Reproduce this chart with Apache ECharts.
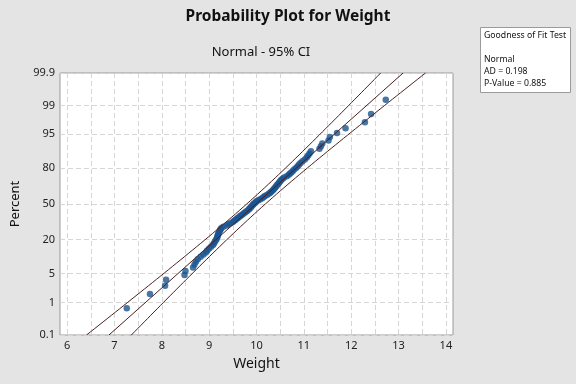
<!DOCTYPE html>
<html><head><meta charset="utf-8">
<script src="https://cdn.jsdelivr.net/npm/echarts@6/dist/echarts.min.js"></script>
<style>html,body{margin:0;padding:0;background:#e4e4e4}#c{width:576px;height:384px}</style>
</head><body><div id="c"></div>
<script>
// Sorted sample values, n = 100
const weights = [
  7.26, 7.75, 8.07, 8.09, 8.48, 8.50, 8.66, 8.69, 8.72, 8.76,
  8.82, 8.88, 8.93, 8.96, 9.00, 9.04, 9.08, 9.10, 9.12, 9.14,
  9.16, 9.17, 9.18, 9.19, 9.20, 9.21, 9.23, 9.24, 9.26, 9.30,
  9.37, 9.41, 9.45, 9.50, 9.53, 9.56, 9.59, 9.62, 9.65, 9.68,
  9.71, 9.74, 9.77, 9.80, 9.83, 9.85, 9.87, 9.89, 9.91, 9.93,
  9.95, 9.98, 10.00, 10.04, 10.08, 10.12, 10.15, 10.18, 10.22, 10.26,
  10.29, 10.31, 10.34, 10.36, 10.38, 10.40, 10.42, 10.44, 10.46, 10.48,
  10.50, 10.52, 10.55, 10.58, 10.64, 10.68, 10.71, 10.74, 10.77, 10.80,
  10.84, 10.87, 10.90, 10.93, 10.97, 11.02, 11.06, 11.09, 11.12, 11.15,
  11.33, 11.36, 11.39, 11.52, 11.55, 11.70, 11.88, 12.29, 12.42, 12.73
];
const percentTicks = [0.1, 1, 5, 20, 50, 80, 95, 99, 99.9];
const xTickLabels = [6, 7, 8, 9, 10, 11, 12, 13, 14];
const xGridValues = [6, 6.5, 7, 7.5, 8, 8.5, 9, 9.5, 10, 10.5, 11, 11.5, 12, 12.5, 13, 13.5, 14];
const fitMean = 9.99;
const fitStDev = 1.005;
const gofLines = ['Goodness of Fit Test', '', 'Normal', 'AD = 0.198', 'P-Value = 0.885'];

// inverse standard normal (Acklam)
function probit(p) {
  const a = [-3.969683028665376e+01, 2.209460984245205e+02, -2.759285104469687e+02, 1.383577518672690e+02, -3.066479806614716e+01, 2.506628277459239e+00];
  const b = [-5.447609879822406e+01, 1.615858368580409e+02, -1.556989798598866e+02, 6.680131188771972e+01, -1.328068155288572e+01];
  const c = [-7.784894002430293e-03, -3.223964580411365e-01, -2.400758277161838e+00, -2.549671400699464e+00, 4.374664141464968e+00, 2.938163982698783e+00];
  const d = [7.784695709041462e-03, 3.224671290700398e-01, 2.445134137142996e+00, 3.754408661907416e+00];
  const pl = 0.02425;
  let q, r;
  if (p < pl) { q = Math.sqrt(-2 * Math.log(p)); return (((((c[0]*q+c[1])*q+c[2])*q+c[3])*q+c[4])*q+c[5]) / ((((d[0]*q+d[1])*q+d[2])*q+d[3])*q+1); }
  if (p > 1 - pl) { q = Math.sqrt(-2 * Math.log(1 - p)); return -(((((c[0]*q+c[1])*q+c[2])*q+c[3])*q+c[4])*q+c[5]) / ((((d[0]*q+d[1])*q+d[2])*q+d[3])*q+1); }
  q = p - 0.5; r = q * q;
  return (((((a[0]*r+a[1])*r+a[2])*r+a[3])*r+a[4])*r+a[5])*q / (((((b[0]*r+b[1])*r+b[2])*r+b[3])*r+b[4])*r+1);
}

const n = weights.length;
const zTicks = percentTicks.map(p => probit(p / 100));
const zMin = zTicks[0], zMax = zTicks[zTicks.length - 1];
const points = weights.map((w, i) => [w, probit((i + 1 - 0.3) / (n + 0.4))]);

const fitLine = [[fitMean + fitStDev * zMin, zMin], [fitMean + fitStDev * zMax, zMax]];
const ciLower = [], ciUpper = [];
for (let k = 0; k <= 80; k++) {
  const z = zMin + (zMax - zMin) * k / 80;
  const xp = fitMean + fitStDev * z;
  const h = 1.96 * fitStDev * Math.sqrt((1 + z * z / 2) / n);
  ciUpper.push([xp - h, z]);
  ciLower.push([xp + h, z]);
}

function labelFor(v) {
  let best = 0, bd = Infinity;
  zTicks.forEach((z, i) => { const d = Math.abs(z - v); if (d < bd) { bd = d; best = i; } });
  return String(percentTicks[best]);
}

const FONT = 'Noto Sans';
const lineColor = '#4a2020';
const chart = echarts.init(document.getElementById('c'), null, { renderer: 'canvas' });
chart.setOption({
  backgroundColor: '#e4e4e4',
  animation: false,
  title: [
    { text: 'Probability Plot for Weight', left: 'center', top: 4,
      textStyle: { fontFamily: FONT, fontSize: 15.5, fontWeight: 'bold', color: '#111' } },
    { text: 'Normal - 95% CI', left: 256, textAlign: 'center', top: 41,
      textStyle: { fontFamily: FONT, fontSize: 13, fontWeight: 'normal', color: '#111' } }
  ],
  grid: { left: 60, right: 123, top: 73, bottom: 49, show: true, backgroundColor: '#fff', borderColor: '#9a9a9a', borderWidth: 1 },
  xAxis: {
    type: 'value', min: 5.85, max: 14.15,
    name: 'Weight', nameLocation: 'middle', nameGap: 22,
    nameTextStyle: { fontFamily: FONT, fontSize: 14, color: '#111' },
    axisLine: { show: false },
    axisTick: { show: false, customValues: xGridValues },
    axisLabel: { customValues: xTickLabels, fontFamily: FONT, fontSize: 11, color: '#222', margin: 5 },
    splitLine: { show: true, lineStyle: { color: '#d6d6d6', type: [5, 3], width: 1 } }
  },
  yAxis: {
    type: 'value', min: zMin, max: zMax,
    name: 'Percent', nameLocation: 'middle', nameGap: 29, nameRotate: 90,
    nameTextStyle: { fontFamily: FONT, fontSize: 13, color: '#111' },
    axisLine: { show: false },
    axisTick: { show: false, customValues: zTicks },
    axisLabel: { customValues: zTicks, formatter: labelFor, fontFamily: FONT, fontSize: 11, color: '#222', margin: 5 },
    splitLine: { show: true, lineStyle: { color: '#d6d6d6', type: [5, 3], width: 1 } }
  },
  series: [
    { type: 'line', data: ciUpper, showSymbol: false, lineStyle: { color: lineColor, width: 1 }, silent: true },
    { type: 'line', data: fitLine, showSymbol: false, lineStyle: { color: lineColor, width: 1 }, silent: true },
    { type: 'line', data: ciLower, showSymbol: false, lineStyle: { color: lineColor, width: 1 }, silent: true },
    { type: 'scatter', data: points, symbol: 'circle', symbolSize: 6.5, itemStyle: { color: '#1a5590' } }
  ],
  graphic: [
    { type: 'rect', left: 480, top: 27, shape: { width: 90, height: 65 },
      style: { fill: '#fff', stroke: '#9a9a9a', lineWidth: 1 } },
    { type: 'text', left: 484, top: 30,
      style: { text: gofLines.join('\n'), fontFamily: FONT, fontSize: 8.7, lineHeight: 12, fill: '#111' } }
  ]
});
</script></body></html>
